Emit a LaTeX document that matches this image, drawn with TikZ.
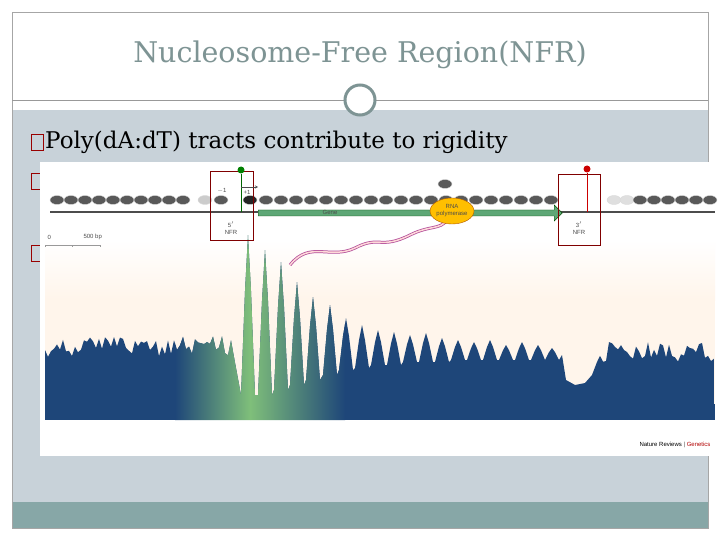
\documentclass[tikz,border=0pt]{standalone}
\usepackage{fontspec}
\setmainfont{DejaVu Serif}
\newfontfamily\sans{Liberation Sans}
\usetikzlibrary{shapes.geometric,shapes.arrows}
\definecolor{sig}{HTML}{1E4679}
\definecolor{slate}{HTML}{C8D2D9}
\definecolor{band}{HTML}{87A7A7}
\definecolor{ttl}{HTML}{7E9494}
\definecolor{grn}{HTML}{7FBF7A}
\definecolor{genec}{HTML}{5EA776}
\begin{document}
\begin{tikzpicture}[x=1pt,y=-1pt,
  nuc/.style={ellipse,fill=gray!70!black,draw=gray!30,inner sep=0pt,minimum width=14pt,minimum height=9pt},
  nfrbox/.style={draw=red!50!black,line width=0.8pt},
  bul/.style={draw=red!60!black,line width=0.7pt,minimum width=12pt,minimum height=16pt,inner sep=0pt},
  lab/.style={font=\sans\fontsize{6}{7}\selectfont,text=black!70,align=center}]
\useasboundingbox (0,0) rectangle (720,540);
\fill[white] (0,0) rectangle (720,540);
\fill[slate] (12,110) rectangle (708,502);
\fill[band] (12,502) rectangle (708,528);
\draw[gray!70] (12,12) rectangle (708,528);
\draw[gray!80] (12,100) -- (708,100);
\node[circle,draw=ttl,line width=3pt,fill=white,minimum size=30pt,inner sep=0pt] (circ) at (360,100) {};
\node[text=ttl,font=\fontsize{28.5}{32}\selectfont] (title) at (360,55) {Nucleosome-Free Region(NFR)};
\node[bul] (b1) at (37,142) {};
\node[anchor=west,font=\fontsize{23}{26}\selectfont,inner sep=0pt] (t1) at (45,142) {Poly(dA:dT) tracts contribute to rigidity};
\node[bul] (b2) at (37,181) {};
\node[bul] (b3) at (37,253) {};
% figure
\fill[white] (40,162) rectangle (718,456);
\shade[top color=white,bottom color=orange!8] (45,240) rectangle (715,300);
\fill[orange!8] (45,300) rectangle (715,420);
\pgfmathsetseed{11}
\begin{scope}
\path[clip] (45,420) -- (45,350)
  \foreach \x in {48,51,...,236}{ -- (\x,{336+22*rnd})}
  \foreach \p/\t/\b in {248/235/395,265/250/395,281/262/390,297/282/385,313/297/380,330/305/375,346/318/370,362/325/368,378/330/365,394/332/365,410/335/362,426/333/362,442/338/362,458/340/360,474/342/360,490/340/360,506/345/360,522/342/360,538/345/360,552/348/360}{ -- (\p-7,\b) -- (\p-3,{\t+(\b-\t)*0.35}) -- (\p,\t) -- (\p+3,{\t+(\b-\t)*0.35}) -- (\p+7,\b)}
  -- (562,355) -- (566,380) -- (575,385) -- (585,383) -- (592,375) -- (597,362)
  \foreach \x in {600,603,...,715}{ -- (\x,{342+20*rnd})}
  -- (715,420) -- cycle;
\fill[sig] (45,220) rectangle (715,420);
\shade[left color=sig,right color=grn] (175,220) rectangle (250,420);
\shade[left color=grn,right color=sig] (250,220) rectangle (345,420);
\end{scope}
\node[lab,anchor=east] (nr) at (714,445) {\textcolor{black}{Nature Reviews} | \textcolor{red!70!black}{Genetics}};
% DNA
\draw[black!70,line width=1.2pt] (50,212) coordinate (d0) -- (715,212) coordinate (d1);
\foreach \x in {57,71,...,190}{\node[nuc] at (\x,200) {};}
\node[nuc,fill=gray!40] at (205,200) {};
\node[nuc] at (221,200) {};
\node[nuc,fill=black!85] at (250,200) {};
\foreach \x in {266,281,...,555}{\node[nuc] at (\x,200) {};}
\foreach \x in {614,627}{\node[nuc,fill=gray!25] at (\x,200) {};}
\foreach \x in {640,654,...,710}{\node[nuc] at (\x,200) {};}
\node[nuc] (top) at (445,184) {};
\node[single arrow,fill=genec,draw=green!30!black,minimum height=304pt,minimum width=16pt,single arrow head extend=2pt,inner sep=1pt,anchor=west] (gene) at (258,213) {};
\node[lab] (genel) at (330,212) {Gene};
\draw[line width=3pt,violet!60!pink] (290,265) .. controls (310,240) and (330,260) .. (355,248) .. controls (380,235) and (380,250) .. (410,235) .. controls (430,225) and (440,230) .. (447,220);
\draw[line width=1.5pt,pink!60] (290,265) .. controls (310,240) and (330,260) .. (355,248) .. controls (380,235) and (380,250) .. (410,235) .. controls (430,225) and (440,230) .. (447,220);
\node[ellipse,fill=orange!50!yellow,draw=orange!70!black,minimum width=44pt,minimum height=26pt,inner sep=0pt,lab] (pol) at (452,211) {RNA\\polymerase};
\node[nfrbox,minimum width=43pt,minimum height=69pt] (n5) at (231.5,206) {};
\node[nfrbox,minimum width=42pt,minimum height=71pt] (n3) at (579,210) {};
\node[circle,fill=green!50!black,inner sep=0pt,minimum size=7pt] (g) at (241,170) {};
\draw[green!40!black,line width=0.8pt] (g) -- (241,212);
\node[circle,fill=red!80!black,inner sep=0pt,minimum size=7pt] (r) at (587,169) {};
\draw[red!80!black,line width=0.8pt] (r) -- (587,212);
\draw[black!70,->,>=stealth] (241,187) -- (258,187);
\node[lab] (m1) at (222,191) {$-$1};
\node[lab] (p1) at (247,192) {+1};
\node[lab] (l5) at (231,228) {5$'$\\NFR};
\node[lab] (l3) at (579,228) {3$'$\\NFR};
\node[lab,anchor=west] (z) at (44,237) {0};
\node[lab,anchor=west] (bp) at (80,237) {500 bp};
\draw[black!40] (45,245) -- (100,245) (45,245) -- (45,247) (72,245) -- (72,247) (100,245) -- (100,247);
\end{tikzpicture}
\end{document}
